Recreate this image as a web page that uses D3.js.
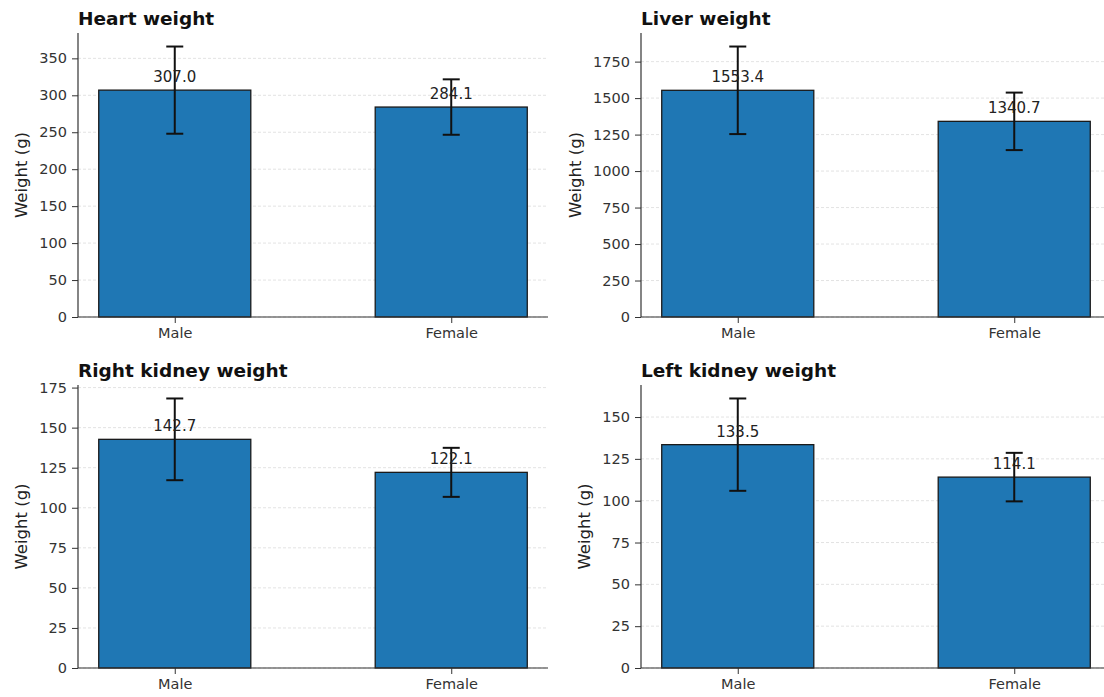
<!DOCTYPE html>
<html><head><meta charset="utf-8">
<script src="https://cdn.jsdelivr.net/npm/d3@7"></script>
<style>body{margin:0;background:#fff;} text{font-family:"DejaVu Sans",sans-serif;}</style>
</head><body>
<svg id="c" width="1104" height="697"></svg>
<script>
const categories = ["Male", "Female"];
const titles = ["Heart weight", "Liver weight", "Right kidney weight", "Left kidney weight"];
const heartMean = [307.0, 284.1];
const heartSd = [59, 37.5];
const liverMean = [1553.4, 1340.7];
const liverSd = [300, 197];
const rKidneyMean = [142.7, 122.1];
const rKidneySd = [25.5, 15.3];
const lKidneyMean = [133.5, 114.1];
const lKidneySd = [27.6, 14.5];
const yTicks = [
  [0, 50, 100, 150, 200, 250, 300, 350],
  [0, 250, 500, 750, 1000, 1250, 1500, 1750],
  [0, 25, 50, 75, 100, 125, 150, 175],
  [0, 25, 50, 75, 100, 125, 150]
];
const yLabel = "Weight (g)";

const panels = [
  {mean: heartMean, sd: heartSd},
  {mean: liverMean, sd: liverSd},
  {mean: rKidneyMean, sd: rKidneySd},
  {mean: lKidneyMean, sd: lKidneySd}
];
const layout = [
  {x0: 78, x1: 548, y0: 33, y1: 317},
  {x0: 641, x1: 1111, y0: 33, y1: 317},
  {x0: 78, x1: 548, y0: 385, y1: 668},
  {x0: 641, x1: 1111, y0: 385, y1: 668}
];
const svg = d3.select("#c");
panels.forEach((p, i) => {
  const L = layout[i];
  const g = svg.append("g");
  const x = d3.scaleLinear().domain([-0.35, 1.35]).range([L.x0, L.x1]);
  const ymax = d3.max(p.mean.map((m, j) => m + p.sd[j])) * 1.05;
  const y = d3.scaleLinear().domain([0, ymax]).range([L.y1, L.y0]);
  // grid
  g.selectAll("line.grid").data(yTicks[i]).join("line")
    .attr("x1", L.x0).attr("x2", L.x1)
    .attr("y1", d => y(d)).attr("y2", d => y(d))
    .attr("stroke", "#e0e0e0").attr("stroke-width", 0.9).attr("stroke-dasharray", "3,2");
  // bars
  const bw = 0.55;
  g.selectAll("rect.bar").data(p.mean).join("rect")
    .attr("x", (d, j) => x(j - bw / 2)).attr("width", x(bw) - x(0))
    .attr("y", d => y(d)).attr("height", d => y(0) - y(d))
    .attr("fill", "#1f77b4").attr("stroke", "#1a1a1a").attr("stroke-width", 1.3);
  // error bars
  p.mean.forEach((m, j) => {
    const cx = x(j);
    g.append("line").attr("x1", cx).attr("x2", cx).attr("y1", y(m - p.sd[j])).attr("y2", y(m + p.sd[j]))
      .attr("stroke", "#111").attr("stroke-width", 2);
    [m - p.sd[j], m + p.sd[j]].forEach(v => {
      g.append("line").attr("x1", cx - 8.5).attr("x2", cx + 8.5).attr("y1", y(v)).attr("y2", y(v))
        .attr("stroke", "#111").attr("stroke-width", 2);
    });
    g.append("text").attr("x", cx).attr("y", y(m) - 8).attr("text-anchor", "middle")
      .attr("font-size", 15).attr("fill", "#222").text(m.toFixed(1));
  });
  // y axis
  const ya = g.append("g").attr("transform", `translate(${L.x0},0)`)
    .call(d3.axisLeft(y).tickValues(yTicks[i]).tickSize(6).tickPadding(5).tickFormat(d3.format("d")));
  ya.select(".domain").attr("d", `M0,${L.y0}V${L.y1}`).attr("stroke", "#333").attr("stroke-width", 1.2);
  ya.selectAll(".tick line").attr("stroke", "#333");
  ya.selectAll(".tick text").attr("font-size", 14.5).attr("fill", "#333").attr("font-family", "DejaVu Sans");
  // x axis
  const xa = g.append("g").attr("transform", `translate(0,${L.y1})`)
    .call(d3.axisBottom(x).tickValues([0, 1]).tickSize(6).tickPadding(5).tickFormat((d) => categories[d]));
  xa.select(".domain").attr("d", `M${L.x0},0H${L.x1}`).attr("stroke", "#333").attr("stroke-width", 1.2);
  xa.selectAll(".tick line").attr("stroke", "#333");
  xa.selectAll(".tick text").attr("font-size", 14.5).attr("fill", "#333").attr("font-family", "DejaVu Sans");
  // y label
  let maxW = 0;
  ya.selectAll(".tick text").each(function () { maxW = Math.max(maxW, this.getComputedTextLength()); });
  const lx = L.x0 - 11 - maxW - 18;
  g.append("text").attr("transform", `translate(${lx},${(L.y0 + L.y1) / 2}) rotate(-90)`)
    .attr("text-anchor", "middle").attr("dy", "0.35em").attr("font-size", 16.5).attr("fill", "#222").text(yLabel);
  // title
  g.append("text").attr("x", L.x0).attr("y", L.y0 - 8).attr("font-size", 18.5).attr("font-weight", "bold")
    .attr("fill", "#111").text(titles[i]);
});
</script>
</body></html>
